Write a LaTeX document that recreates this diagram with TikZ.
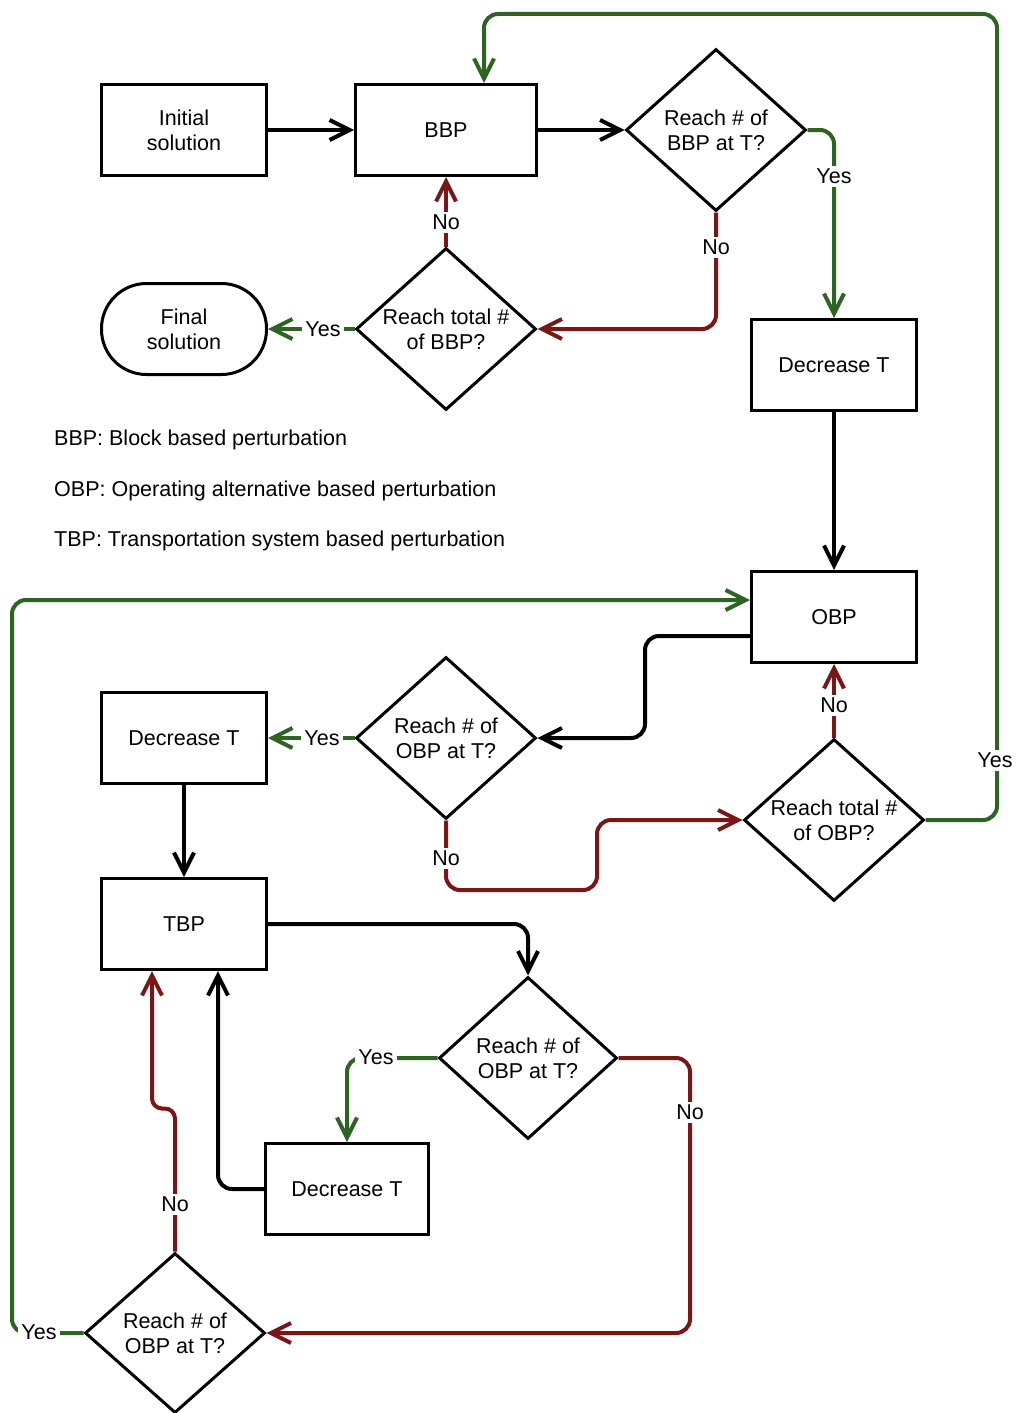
\documentclass[tikz,border=0pt]{standalone}
\usepackage{fontspec}
\setmainfont{Liberation Sans}
\usetikzlibrary{shapes.geometric,arrows.meta,calc}
\definecolor{grn}{RGB}{46,100,34}
\definecolor{rdc}{RGB}{122,22,22}
\begin{document}
\begin{tikzpicture}[x=1pt,y=-1pt,
 every node/.style={font=\fontsize{21.5}{25}\selectfont},
 box/.style={draw, line width=3pt, minimum width=165pt, minimum height=91pt, inner sep=0pt, align=center},
 dia/.style={draw, diamond, line width=3pt, aspect=1.1, inner sep=0pt, minimum width=180pt, minimum height=162pt, align=center},
 term/.style={box, rounded corners=45pt},
 conn/.style={line width=4pt, rounded corners=14pt, -{Straight Barb[length=20pt,width=20pt]}},
 blk/.style={conn, black},
 gr/.style={conn, grn},
 rd/.style={conn, rdc},
 lab/.style={fill=white, inner sep=3pt},
 legend/.style={anchor=west, inner sep=0pt}]
\useasboundingbox (0,0) rectangle (1017,1413);
\fill[white] (0,0) rectangle (1017,1413);

% nodes
\node[box] (init) at (184,130) {Initial\\solution};
\node[box, minimum width=181pt] (bbp) at (446,130) {BBP};
\node[dia] (d1) at (716,130) {Reach \# of\\BBP at T?};
\node[term] (fin) at (184,329) {Final\\solution};
\node[dia] (d2) at (446,329) {Reach total \#\\of BBP?};
\node[box] (dt1) at (834,365) {Decrease T};
\node[legend] (lg1) at (54,440) {BBP: Block based perturbation};
\node[legend] (lg2) at (54,491) {OBP: Operating alternative based perturbation};
\node[legend] (lg3) at (54,541) {TBP: Transportation system based perturbation};
\node[box] (obp) at (834,617) {OBP};
\node[dia] (d3) at (446,738) {Reach \# of\\OBP at T?};
\node[box] (dt2) at (184,738) {Decrease T};
\node[dia] (d4) at (834,820) {Reach total \#\\of OBP?};
\node[box] (tbp) at (184,924) {TBP};
\node[dia, minimum width=178pt] (d5) at (528,1058) {Reach \# of\\OBP at T?};
\node[box, minimum width=163pt] (dt3) at (347,1189) {Decrease T};
\node[dia, minimum height=160pt] (d6) at (175,1333) {Reach \# of\\OBP at T?};

% connectors
\draw[blk] (init) -- (bbp);
\draw[blk] (bbp) -- (d1);
\draw[gr] (d1.east) -| (dt1.north);
\draw[rd] (d1.south) |- (d2.east);
\draw[rd] (d2.north) -- (bbp.south);
\draw[gr] (d2.west) -- (fin.east);
\draw[blk] (dt1) -- (obp);
\draw[blk] ($(obp.west)+(0,19)$) -- ++(-105,0) |- (d3.east);
\draw[gr] (d3.west) -- (dt2.east);
\draw[rd] (d3.south) |- (597,890) |- (d4.west);
\draw[rd] (d4.north) -- (obp.south);
\draw[gr] (d4.east) -| (997,14) -| ($(bbp.north)+(38,0)$);
\draw[blk] (dt2) -- (tbp);
\draw[blk] (tbp.east) -| (d5.north);
\draw[gr] (d5.west) -| (dt3.north);
\draw[rd] (d5.east) -| (690,1200) |- (d6.east);
\draw[blk] (dt3.west) -| ($(tbp.south)+(34,0)$);
\draw[rd, rounded corners=10pt] (d6.north) -- ++(0,-143) -| ($(tbp.south)+(-32,0)$);
\draw[gr] (d6.west) -| (12,900) |- ($(obp.west)+(0,-17)$);

% labels
\node[lab] (ly1) at (834,176) {Yes};
\node[lab] (ln1) at (716,247) {No};
\node[lab] (ln2) at (446,222) {No};
\node[lab] (ly2) at (323,329) {Yes};
\node[lab] (ln3) at (834,705) {No};
\node[lab] (ly3) at (322,738) {Yes};
\node[lab] (ln4) at (446,858) {No};
\node[lab] (ly4) at (995,760) {Yes};
\node[lab] (ly5) at (376,1057) {Yes};
\node[lab] (ln5) at (690,1112) {No};
\node[lab] (ln6) at (175,1204) {No};
\node[lab] (ly6) at (39,1332) {Yes};
\end{tikzpicture}
\end{document}
